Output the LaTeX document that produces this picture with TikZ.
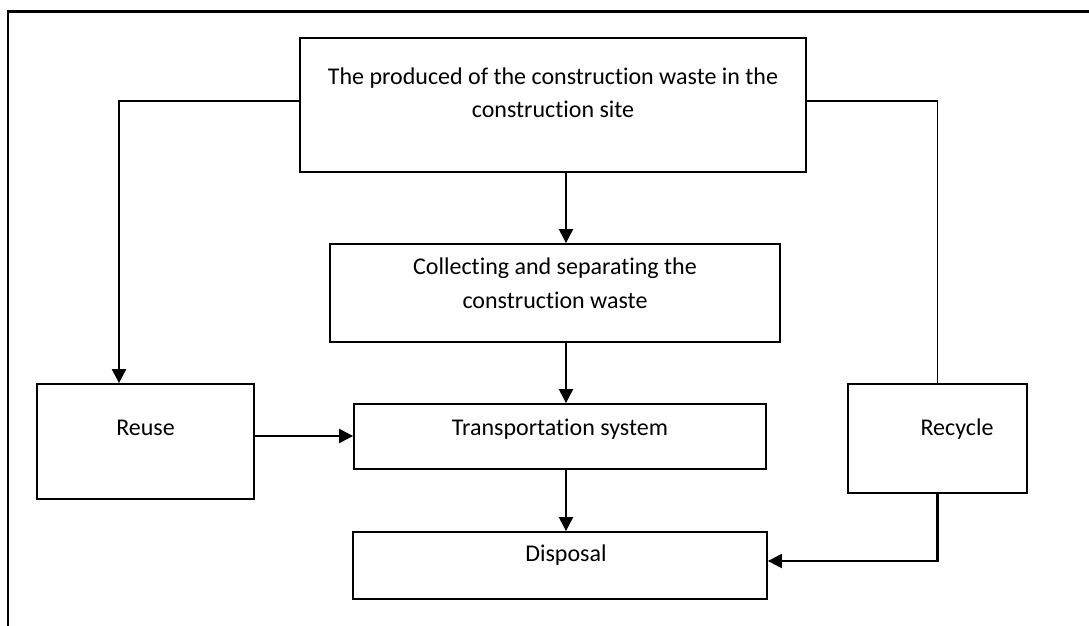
\documentclass[tikz,border=0pt]{standalone}
\usepackage{fontspec}
\setmainfont{Carlito}[Ligatures=NoCommon]
\usetikzlibrary{arrows.meta}
\newcommand{\lowpad}[1]{\rule[-#1]{0pt}{#1}}
\begin{document}
\begin{tikzpicture}[x=1pt,y=-1pt,
  box/.style={draw=black, line width=1.8pt, inner sep=0pt, align=center,
    font=\fontsize{24}{33}\selectfont},
  arr/.style={line width=2.2pt, -{Triangle[length=14pt,width=14pt]}},
  link/.style={line width=1.8pt}]
\useasboundingbox (0,0) rectangle (1089,626);
\clip (0,0) rectangle (1089,626);
\draw[line width=2.2pt] (8,640) -- (8,11.5) -- (1100,11.5);

\node[box, minimum width=506pt, minimum height=134pt] (top) at (553,105)
  {The produced of the construction waste in the\\construction site\lowpad{24pt}};
\node[box, minimum width=450pt, minimum height=98pt, font=\fontsize{24}{34}\selectfont] (coll) at (555,293)
  {Collecting and separating the\\construction waste\lowpad{19pt}};
\node[box, minimum width=217pt, minimum height=115pt] (reuse) at (145.5,441.5)
  {Reuse\lowpad{28pt}};
\node[box, minimum width=412pt, minimum height=65pt] (trans) at (560,436.5)
  {Transportation system\lowpad{18pt}};
\node[box, minimum width=179pt, minimum height=109pt] (recycle) at (937.5,438.5)
  {\hspace*{39pt}Recycle\lowpad{22pt}};
\node[box, minimum width=414pt, minimum height=67pt] (disp) at (560,565.5)
  {\hspace*{12pt}Disposal\lowpad{24pt}};

\draw[arr] ([xshift=13pt]top.south) -- ([xshift=11pt]coll.north);
\draw[arr] ([xshift=11pt]coll.south) -- ([xshift=6pt]trans.north);
\draw[arr] ([xshift=6pt]trans.south) -- ([xshift=6pt]disp.north);
\draw[arr] ([yshift=5.5pt]reuse.east) -- ([yshift=5.5pt]reuse.east -| trans.west);
\draw[arr] ([yshift=4pt]top.west) -| ([xshift=-26.5pt]reuse.north);
\draw[link] ([yshift=4pt]top.east) -| (recycle.north);
\draw[arr] (recycle.south) |- ([yshift=4.5pt]disp.east);
\end{tikzpicture}
\end{document}
